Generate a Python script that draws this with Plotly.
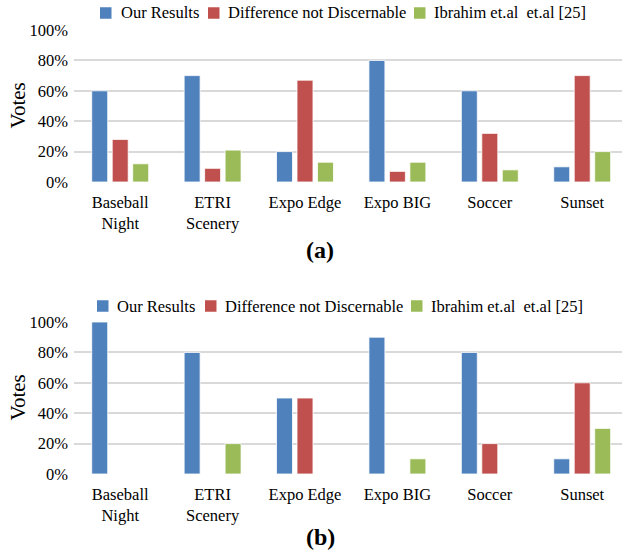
import plotly.graph_objects as go

categories = ["Baseball<br>Night", "ETRI<br>Scenery", "Expo Edge", "Expo BIG", "Soccer", "Sunset"]
series_names = ["Our Results", "Difference not Discernable", "Ibrahim et.al  et.al [25]"]
colors = ["#4F81BD", "#C0504D", "#9BBB59"]

a_our = [0.60, 0.70, 0.20, 0.80, 0.60, 0.10]
a_diff = [0.28, 0.09, 0.67, 0.07, 0.32, 0.70]
a_ibr = [0.12, 0.21, 0.13, 0.13, 0.08, 0.20]

b_our = [1.00, 0.80, 0.50, 0.90, 0.80, 0.10]
b_diff = [0.00, 0.00, 0.50, 0.00, 0.20, 0.60]
b_ibr = [0.00, 0.20, 0.00, 0.10, 0.00, 0.30]

ytick_vals = [0, 0.2, 0.4, 0.6, 0.8, 1.0]
ytick_text = ["0%", "20%", "40%", "60%", "80%", "100%"]

W, H = 622, 553
FONT = "Liberation Serif"

fig = go.Figure()
xs = list(range(len(categories)))
for vals, name, col in zip([a_our, a_diff, a_ibr], series_names, colors):
    fig.add_trace(go.Bar(x=xs, y=vals, name=name, showlegend=False,
                         marker=dict(color=col, line=dict(color="white", width=0.8)),
                         xaxis="x", yaxis="y"))
for vals, name, col in zip([b_our, b_diff, b_ibr], series_names, colors):
    fig.add_trace(go.Bar(x=xs, y=vals, name=name, showlegend=False,
                         marker=dict(color=col, line=dict(color="white", width=0.8)),
                         xaxis="x2", yaxis="y2"))

def px_x(p):
    return p / W

def px_y(p):
    return 1 - p / H

xdom = [74 / W, 1.0]
xcommon = dict(domain=xdom, range=[-0.5, (W - 74) / 92.4 - 0.5], tickvals=xs, ticktext=categories,
               showgrid=False, zeroline=False, showline=False, ticks="", ticklabelstandoff=8,
               automargin=False, tickfont=dict(family=FONT, size=16.5, color="#000"))
ycommon = dict(range=[0, 1.0], tickvals=ytick_vals, ticktext=ytick_text, showgrid=True,
               gridcolor="#d9d9d9", gridwidth=2, zeroline=False, showline=False, ticks="",
               ticklabelstandoff=5, automargin=False, tickfont=dict(family=FONT, size=16.5, color="#000"))

shapes = []
annotations = []

# manual legends (layout decoration): square left x, text left x, centre y
legend_rows = [
    (13, [(100, 121), (208, 228), (414, 434)], 11.5),
    (306, [(97, 117), (205, 225), (411, 431)], 11.5),
]
for cy, items, sz in legend_rows:
    for (sx, tx), name, col in zip(items, series_names, colors):
        shapes.append(dict(type="rect", xref="paper", yref="paper",
                           x0=px_x(sx), x1=px_x(sx + sz), y0=px_y(cy + sz / 2), y1=px_y(cy - sz / 2),
                           fillcolor=col, line=dict(width=0)))
        annotations.append(dict(text=name, x=px_x(tx - 2), y=px_y(cy), xref="paper", yref="paper",
                                xanchor="left", yanchor="middle", showarrow=False,
                                font=dict(family=FONT, size=16.5, color="#000")))

for cy in (106, 398):
    annotations.append(dict(text="Votes", x=px_x(17.5), y=px_y(cy), xref="paper", yref="paper",
                            textangle=-90, xanchor="center", yanchor="middle", showarrow=False,
                            font=dict(family=FONT, size=21, color="#000")))
for label, cy in (("<b>(a)</b>", 250), ("<b>(b)</b>", 537)):
    annotations.append(dict(text=label, x=px_x(320), y=px_y(cy), xref="paper", yref="paper",
                            xanchor="center", yanchor="middle", showarrow=False,
                            font=dict(family=FONT, size=24, color="#000")))

fig.update_layout(
    width=W, height=H, margin=dict(l=0, r=0, t=0, b=0, autoexpand=False),
    paper_bgcolor="white", plot_bgcolor="white",
    barmode="group", bargap=0.335, bargroupgap=0.22,
    font=dict(family=FONT, size=16.5, color="#000"),
    showlegend=False,
    xaxis=dict(anchor="y", **xcommon),
    xaxis2=dict(anchor="y2", **xcommon),
    yaxis=dict(anchor="x", domain=[px_y(182), px_y(30)], **ycommon),
    yaxis2=dict(anchor="x2", domain=[px_y(474), px_y(322)], **ycommon),
    shapes=shapes,
    annotations=annotations,
)

fig.write_html("out.html", config={"displayModeBar": False},
               post_script="document.body.style.margin='0';")
